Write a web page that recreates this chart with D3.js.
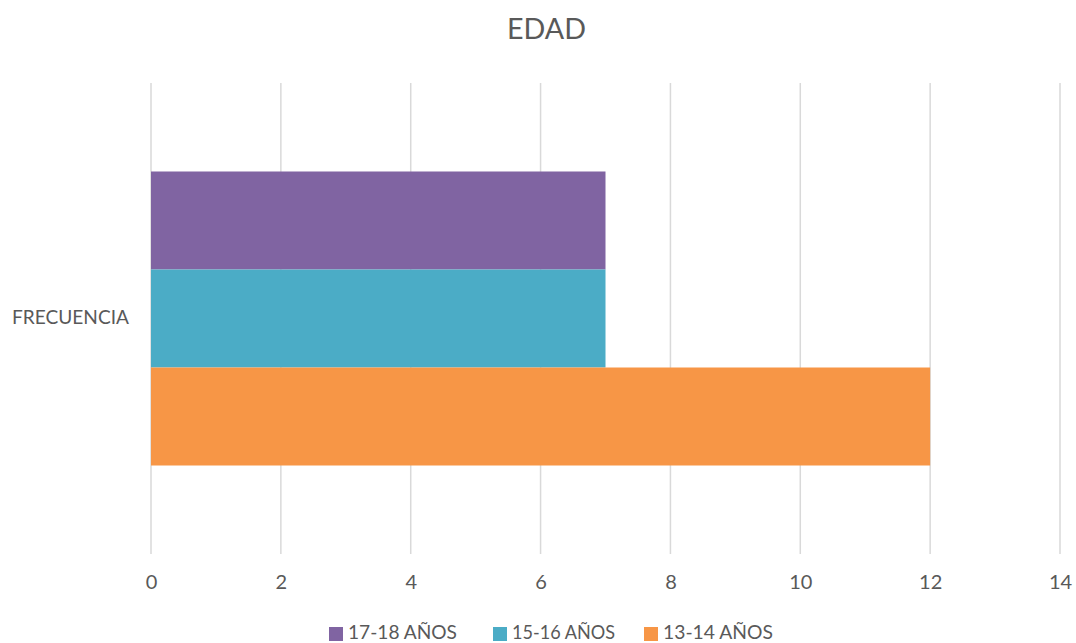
<!DOCTYPE html>
<html><head><meta charset="utf-8">
<script src="https://cdn.jsdelivr.net/npm/d3@7"></script>
<style>body{margin:0;background:#fff}svg{display:block}text{font-family:Lato,"Open Sans",sans-serif;fill:#595959}</style>
</head><body><svg id="c" width="1076" height="643"></svg>
<script>
const categories = ["FRECUENCIA"];
const seriesNames = ["17-18 AÑOS", "15-16 AÑOS", "13-14 AÑOS"];
const seriesValues = [7, 7, 12];
const seriesColors = ["#8064A2", "#4BACC6", "#F79646"];
const xTicks = [0, 2, 4, 6, 8, 10, 12, 14];
const title = "EDAD";

const svg = d3.select("#c");
const plot = {left: 151, right: 1060, top: 83, bottom: 554};

const x = d3.scaleLinear().domain([0, 14]).range([plot.left, plot.right]);
const y0 = d3.scaleBand().domain(categories).range([plot.top, plot.bottom]);
const y1 = d3.scaleBand().domain(seriesNames).range([0, y0.bandwidth()]).paddingInner(0).paddingOuter(0.903);

// gridlines
svg.append("g").selectAll("line").data(xTicks).join("line")
  .attr("x1", d => x(d)).attr("x2", d => x(d))
  .attr("y1", plot.top).attr("y2", plot.bottom)
  .attr("stroke", "#d9d9d9").attr("stroke-width", 1.5);

// bars
const g = svg.append("g");
categories.forEach(cat => {
  g.selectAll("rect.b").data(seriesNames.map((s, i) => ({s, v: seriesValues[i], c: seriesColors[i]})))
    .join("rect").attr("class", "b")
    .attr("x", x(0)).attr("y", d => y0(cat) + y1(d.s))
    .attr("width", d => x(d.v) - x(0)).attr("height", y1.bandwidth())
    .attr("fill", d => d.c);
});

// x axis labels
const xAxis = d3.axisBottom(x).tickValues(xTicks).tickSize(0).tickPadding(0);
const ax = svg.append("g").attr("transform", `translate(0,${plot.bottom})`).call(xAxis);
ax.select(".domain").remove();
ax.selectAll("text").attr("y", 35).attr("dy", null).style("font-size", "20px").style("fill", "#595959")
  .style("font-family", "Lato, 'Open Sans', sans-serif");

// category label
svg.selectAll("text.cat").data(categories).join("text").attr("class", "cat")
  .attr("x", 12).attr("y", d => y0(d) + y0.bandwidth() / 2 + 5)
  .attr("textLength", 117).attr("lengthAdjust", "spacingAndGlyphs")
  .style("font-size", "19px").text(d => d);

// title
svg.append("text").attr("x", 507).attr("y", 39)
  .attr("textLength", 79).attr("lengthAdjust", "spacingAndGlyphs")
  .style("font-size", "28px").text(title);

// legend
const legX = [329, 493, 644];
const legW = [109, 103, 110];
const lg = svg.append("g");
seriesNames.forEach((s, i) => {
  lg.append("rect").attr("x", legX[i]).attr("y", 627).attr("width", 14).attr("height", 14).attr("fill", seriesColors[i]);
  lg.append("text").attr("x", legX[i] + 19).attr("y", 639)
    .attr("textLength", legW[i]).attr("lengthAdjust", "spacingAndGlyphs")
    .style("font-size", "19px").text(s);
});
</script></body></html>
